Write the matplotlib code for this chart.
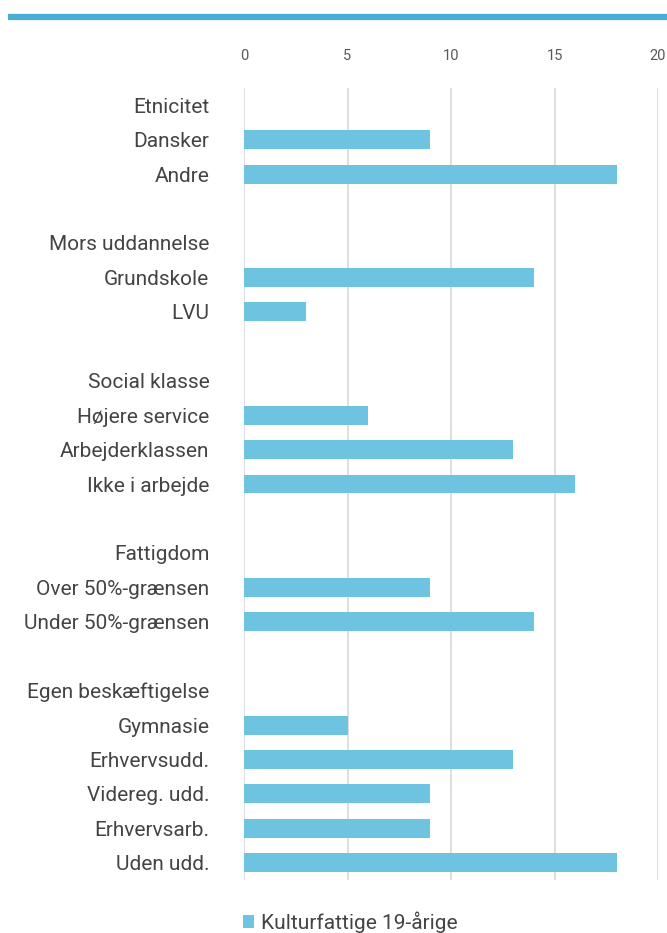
import numpy as np
import matplotlib.pyplot as plt
from matplotlib.lines import Line2D

# row labels from top to bottom; "" = blank spacer row
labels = ["Etnicitet", "Dansker", "Andre", "",
          "Mors uddannelse", "Grundskole", "LVU", "",
          "Social klasse", "Højere service", "Arbejderklassen", "Ikke i arbejde", "",
          "Fattigdom", "Over 50%-grænsen", "Under 50%-grænsen", "",
          "Egen beskæftigelse", "Gymnasie", "Erhvervsudd.", "Videreg. udd.", "Erhvervsarb.", "Uden udd."]
values = [0, 9, 18, 0,
          0, 14, 3, 0,
          0, 6, 13, 16, 0,
          0, 9, 14, 0,
          0, 5, 13, 9, 9, 18]
xticks = [0, 5, 10, 15, 20]
series_name = "Kulturfattige 19-årige"

plt.rcParams['font.family'] = ['Roboto', 'DejaVu Sans']

fig = plt.figure(figsize=(6.67, 9.33), dpi=100)
ax = fig.add_axes([244/667, 1-880/933, 414/667, 792/933])

y = np.arange(len(labels))
bars = ax.barh(y, values, height=0.55, color='#6EC3E0', zorder=3)
ax.set_ylim(len(labels) - 0.5, -0.5)
ax.set_xlim(0, 20)
ax.set_yticks(y)
ax.set_yticklabels(labels, fontsize=15, color='#444444')
ax.set_xticks(xticks)
ax.set_xticklabels([str(t) for t in xticks], fontsize=10.5, color='#595959')
ax.xaxis.tick_top()
ax.tick_params(axis='x', length=0, pad=18)
ax.tick_params(axis='y', length=0, pad=25)
for s in ax.spines.values():
    s.set_visible(False)
ax.grid(axis='x', color='#D9D9D9', linewidth=1.2, zorder=0)

# heading rule across the top
fig.add_artist(Line2D([8/667, 1], [1-17/933, 1-17/933], color='#4BACD6',
                      linewidth=4.5, solid_capstyle='butt'))

fig.legend([bars], [series_name], loc='center', bbox_to_anchor=(350/667, 1-922/933),
           frameon=False, fontsize=15, handlelength=0.55, handleheight=0.55,
           handletextpad=0.3, labelcolor='#444444')

fig.savefig('out.png', dpi=100)
